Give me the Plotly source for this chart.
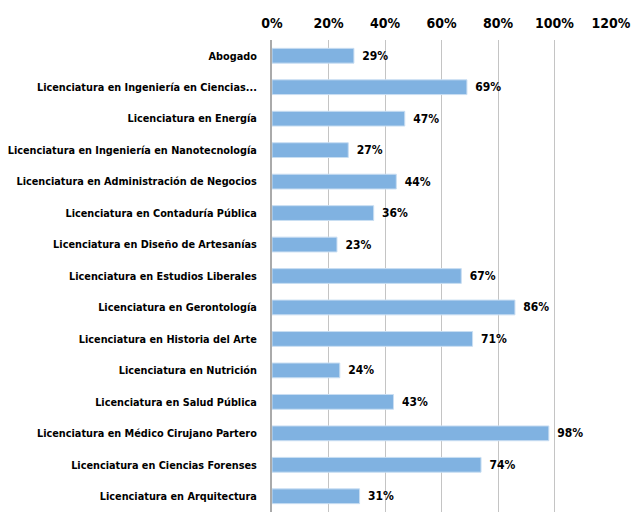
import plotly.graph_objs as go

carreras = [
    "Abogado",
    "Licenciatura en Ingeniería en Ciencias...",
    "Licenciatura en Energía",
    "Licenciatura en Ingeniería en Nanotecnología",
    "Licenciatura en Administración de Negocios",
    "Licenciatura en Contaduría Pública",
    "Licenciatura en Diseño de Artesanías",
    "Licenciatura en Estudios Liberales",
    "Licenciatura en Gerontología",
    "Licenciatura en Historia del Arte",
    "Licenciatura en Nutrición",
    "Licenciatura en Salud Pública",
    "Licenciatura en Médico Cirujano Partero",
    "Licenciatura en Ciencias Forenses",
    "Licenciatura en Arquitectura",
]
porcentajes = [0.29, 0.69, 0.47, 0.27, 0.44, 0.36, 0.23, 0.67, 0.86, 0.71, 0.24, 0.43, 0.98, 0.74, 0.31]
ticks = [0, 0.2, 0.4, 0.6, 0.8, 1.0, 1.2]

font_fam = "DejaVu Sans Condensed, Liberation Sans Narrow, sans-serif"

figure = go.Figure(go.Bar(
    x=porcentajes,
    y=carreras,
    orientation="h",
    marker=dict(color="#80b2e1", line=dict(color="#c9def2", width=1)),
    text=[f"\u2002{round(v * 100)}%" for v in porcentajes],
    textposition="outside",
    textfont=dict(family=font_fam, size=12, color="black", weight="bold"),
    cliponaxis=False,
))
figure.update_layout(
    width=633,
    height=515,
    margin=dict(l=272, r=22, t=40, b=3),
    plot_bgcolor="white",
    paper_bgcolor="white",
    bargap=0.53,
    showlegend=False,
    font=dict(family=font_fam, color="black"),
    xaxis=dict(
        side="top",
        range=[0, 1.2],
        tickvals=ticks,
        tickformat=".0%",
        showgrid=True,
        gridcolor="#c4c4c4",
        gridwidth=1,
        zeroline=False,
        automargin=False,
        tickfont=dict(family=font_fam, size=14, color="black", weight="bold"),
        ticklabelstandoff=8,
    ),
    yaxis=dict(
        autorange="reversed",
        showline=True,
        linecolor="#aaaaaa",
        linewidth=2,
        ticks="",
        automargin=False,
        tickfont=dict(family=font_fam, size=10.8, color="black", weight="bold"),
        ticklabelstandoff=11,
    ),
)
figure.write_html("out.html", config={"displayModeBar": False},
                  post_script="document.body.style.margin='0';")
